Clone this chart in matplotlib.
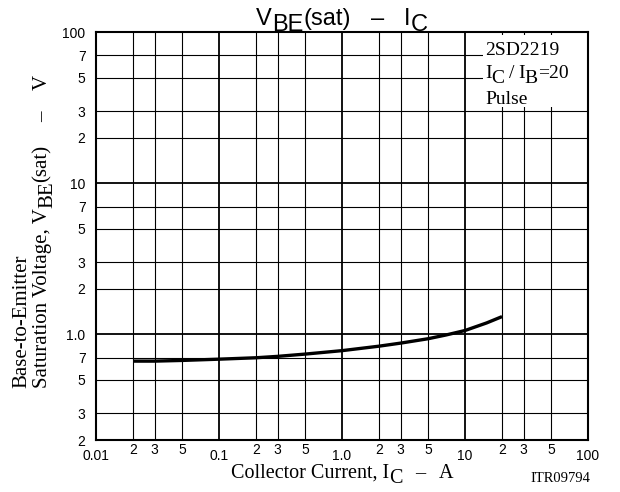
import matplotlib
matplotlib.use('Agg')
import matplotlib.pyplot as plt
from matplotlib.patches import Rectangle
from matplotlib.ticker import FixedLocator

plt.rcParams['font.family'] = ['Liberation Sans', 'DejaVu Sans']

# curve: collector current (A) vs VBE(sat) (V)
ic = [0.02, 0.03, 0.05, 0.1, 0.2, 0.3, 0.5, 1.0, 2.0, 3.0, 5.0, 7.0, 10.0, 15.0, 20.0]
vbe = [0.665, 0.665, 0.672, 0.685, 0.70, 0.715, 0.74, 0.78, 0.835, 0.875, 0.935, 0.99, 1.06, 1.19, 1.31]

x_major = [0.01, 0.1, 1.0, 10, 100]
x_major_lbl = ['0.01', '0.1', '1.0', '10', '100']
x_minor = [0.02, 0.03, 0.05, 0.2, 0.3, 0.5, 2, 3, 5, 20, 30, 50]
x_minor_lbl = ['2', '3', '5'] * 4

y_major = [1.0, 10, 100]
y_major_lbl = ['1.0', '10', '100']
y_minor = [0.2, 0.3, 0.5, 0.7, 2, 3, 5, 7, 20, 30, 50, 70]
y_minor_lbl = ['2', '3', '5', '7'] * 3

W, H = 620, 492
fig = plt.figure(figsize=(W / 100, H / 100), dpi=100)
L, R, T, B = 96, 588, 32, 440
ax = fig.add_axes([L / W, 1 - B / H, (R - L) / W, (B - T) / H])

ax.set_xscale('log')
ax.set_yscale('log')
ax.set_xlim(0.01, 100)
ax.set_ylim(0.2, 100)

ax.plot(ic, vbe, color='black', lw=2.4, solid_capstyle='butt', zorder=3)

ax.xaxis.set_major_locator(FixedLocator(x_major))
ax.xaxis.set_minor_locator(FixedLocator(x_minor))
ax.set_xticklabels(x_major_lbl)
ax.set_xticklabels(x_minor_lbl, minor=True)
ax.yaxis.set_major_locator(FixedLocator(y_major))
ax.yaxis.set_minor_locator(FixedLocator(y_minor))
ax.set_yticklabels(y_major_lbl)
ax.set_yticklabels(y_minor_lbl, minor=True)

ax.tick_params(axis='both', which='both', length=0, labelsize=10, colors='black')
ax.tick_params(axis='x', which='major', pad=6.5)
ax.tick_params(axis='x', which='minor', pad=2.5)
ax.tick_params(axis='y', which='both', pad=7.5)

ax.set_axisbelow(True)
ax.grid(True, which='major', color='black', lw=1.3)
ax.grid(True, which='minor', color='black', lw=0.8)
for sp in ax.spines.values():
    sp.set_linewidth(1.5)
    sp.set_zorder(4)

# white box behind the device note
x0 = (483 - L) / (R - L)
y0 = (B - 107) / (B - T)
ax.add_patch(Rectangle((x0, y0), 1.0 - x0, 0.993 - y0, transform=ax.transAxes,
                       facecolor='white', edgecolor='none', zorder=2.5))

serif = ['Liberation Serif', 'DejaVu Serif']
sans = ['Liberation Sans', 'DejaVu Sans']
renderer = fig.canvas.get_renderer()


def rich(px, py, parts, size, family, rot=0, center=False, drop=0.3):
    # parts: (text, is_subscript, gap before in px); px, py in pixels from top-left
    objs = []
    for s, sub, gap in parts:
        t = fig.text(0, 0, s, fontsize=size, family=family, rotation=rot,
                     rotation_mode='anchor', ha='left', va='baseline')
        objs.append(t)
    widths = []
    for t in objs:
        bb = t.get_window_extent(renderer)
        widths.append(bb.height if rot == 90 else bb.width)
    total = sum(widths) + sum(p[2] for p in parts)
    pos = -total / 2 if center else 0
    d = size * 100 / 72 * drop
    for t, (s, sub, gap), w in zip(objs, parts, widths):
        pos += gap
        off = d if sub else 0
        if rot == 90:
            X, Y = px + off, py - pos
        else:
            X, Y = px + pos, py + off
        t.set_position((X / W, 1 - Y / H))
        pos += w


# title
rich((L + R) / 2, 25, [('V', False, 0), ('BE', True, 0), ('(sat)', False, 0),
                       ('–', False, 20), ('I', False, 20), ('C', True, 0)],
     17, sans, center=True, drop=0.27)

# device note
fs_note = 14
rich(485, 55, [('2SD2219', False, 0)], fs_note, serif)
rich(485, 78, [('I', False, 0), ('C', True, 0), ('/', False, 4), ('I', False, 4),
               ('B', True, 0), ('=20', False, 0)], fs_note, serif, drop=0.25)
rich(485, 104, [('Pulse', False, 0)], fs_note, serif)

# axis labels
rich((L + R) / 2, 478, [('Collector Current, I', False, 0), ('C', True, 0),
                        ('–', False, 13), ('A', False, 13)],
     14.5, serif, center=True, drop=0.25)
rich(26, 388, [('Base-to-Emitter', False, 0)], 15, serif, rot=90)
rich(47, 388, [('Saturation Voltage, V', False, 0), ('BE', True, 0), ('(sat)', False, 0),
               ('–', False, 22), ('V', False, 22)], 15, serif, rot=90, drop=0.25)

rich(560, 482, [('ITR09794', False, 0)], 10.5, serif, center=True)

fig.savefig('out.png', dpi=100)
